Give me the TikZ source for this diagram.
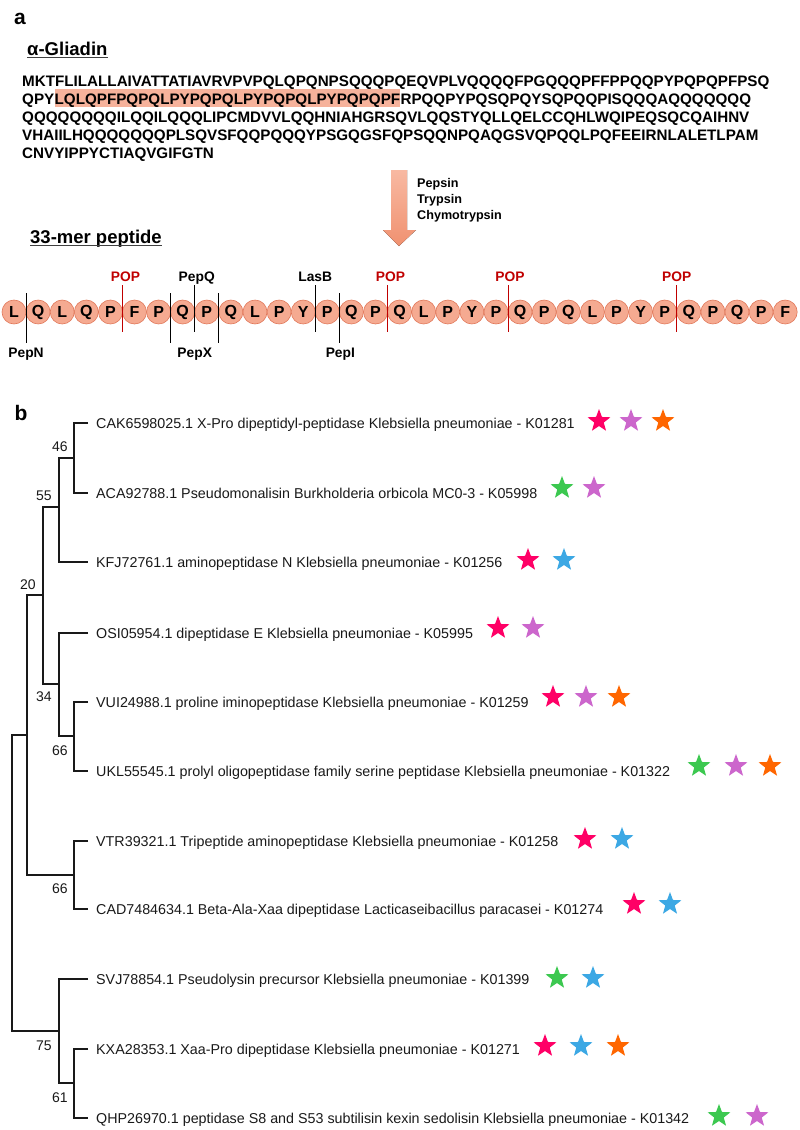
\documentclass[tikz,border=0pt]{standalone}
\usepackage{fontspec}
\setmainfont{Liberation Sans}
\usetikzlibrary{shapes.geometric,calc}
\definecolor{salmonfill}{RGB}{245,170,145}
\definecolor{salmonedge}{RGB}{225,120,90}
\definecolor{hl}{RGB}{246,178,155}
\definecolor{popred}{RGB}{192,0,0}
\definecolor{spink}{RGB}{255,0,102}
\definecolor{sviolet}{RGB}{204,102,204}
\definecolor{sorange}{RGB}{255,102,0}
\definecolor{sgreen}{RGB}{60,200,80}
\definecolor{sblue}{RGB}{60,168,228}
\definecolor{arrtop}{RGB}{248,185,162}
\definecolor{arrbot}{RGB}{240,145,112}
\begin{document}
\begin{tikzpicture}[x=1pt,y=-1pt,
  panel/.style={font=\fontsize{21}{24}\selectfont\bfseries, inner sep=0},
  head/.style={font=\fontsize{18.5}{22}\selectfont\bfseries, inner sep=0, anchor=base west},
  seq/.style={font=\fontsize{15.2}{18}\selectfont\bfseries, inner sep=0, anchor=base west},
  aa/.style={circle, draw=salmonedge, fill=salmonfill, line width=0.6pt, minimum size=24pt, inner sep=0, font=\fontsize{16}{18}\selectfont\bfseries},
  cut/.style={line width=1.1pt, draw=black},
  popcut/.style={line width=1.1pt, draw=popred},
  enz/.style={font=\fontsize{13.8}{16}\selectfont\bfseries, inner sep=0, anchor=base},
  pop/.style={enz, text=popred},
  dig/.style={font=\fontsize{12.6}{15}\selectfont\bfseries, inner sep=0, anchor=base west},
  leaf/.style={font=\fontsize{14.3}{17}\selectfont, text=black!90, inner sep=0, anchor=base west},
  boot/.style={font=\fontsize{14}{17}\selectfont, text=black!90, inner sep=0},
  branch/.style={line width=1.1pt, draw=black!90},
  starx/.style={star, star points=5, star point ratio=2.4, minimum size=24pt, inner sep=0, draw=none},
]
\useasboundingbox (0,0) rectangle (800,1130);

% ---------- panel a ----------
\node[panel] (pa) at (20,19) {a};
\node[head] (gl) at (27,55) {α-Gliadin};
\draw[line width=1.2pt, black!75] ($(gl.base west)+(0,2.8)$) -- ($(gl.base east)+(0,2.8)$);

\node[seq] (s1) at (22,86) {MKTFLILALLAIVATTATIAVRVPVPQLQPQNPSQQQPQEQVPLVQQQQFPGQQQPFFPPQQPYPQPQPFPSQ};
\node[seq] (s2a) at (22,104) {QPY};
\node[seq, fill=hl, text height=15pt, text depth=2.6pt] (s2b) at (s2a.base east) {LQLQPFPQPQLPYPQPQLPYPQPQLPYPQPQPF};
\node[seq] (s2c) at (s2b.base east) {RPQQPYPQSQPQYSQPQQPISQQQAQQQQQQQ};
\node[seq] (s3) at (22,122.3) {QQQQQQQQILQQILQQQLIPCMDVVLQQHNIAHGRSQVLQQSTYQLLQELCCQHLWQIPEQSQCQAIHNV};
\node[seq] (s4) at (22,140.5) {VHAIILHQQQQQQQPLSQVSFQQPQQQYPSGQGSFQPSQQNPQAQGSVQPQQLPQFEEIRNLALETLPAM};
\node[seq] (s5) at (22,158.7) {CNVYIPPYCTIAQVGIFGTN};

% digestion arrow
\fill[top color=arrtop, bottom color=arrbot] (391,170) -- (407,170) -- (407,230) -- (416,230) -- (399,246) -- (383,230) -- (391,230) -- cycle;
\node[dig] (pep) at (417,187.5) {Pepsin};
\node[dig] (try) at (417,203.5) {Trypsin};
\node[dig] (chy) at (417,219.5) {Chymotrypsin};

\node[head] (mer) at (30,243) {33-mer peptide};
\draw[line width=1.2pt, black!75] ($(mer.base west)+(0,2.8)$) -- ($(mer.base east)+(0,2.8)$);

% peptide beads
\foreach \l [count=\i from 0] in {L,Q,L,Q,P,F,P,Q,P,Q,L,P,Y,P,Q,P,Q,L,P,Y,P,Q,P,Q,L,P,Y,P,Q,P,Q,P,F}
  \node[aa] (p\i) at ({14+24.1*\i},312) {\l};

% cut sites
\coordinate (cN)  at ($(p0)!0.5!(p1)$);
\coordinate (cP1) at ($(p4)!0.5!(p5)$);
\coordinate (cXa) at ($(p6)!0.5!(p7)$);
\coordinate (cQ)  at ($(p7)!0.5!(p8)$);
\coordinate (cXb) at ($(p8)!0.5!(p9)$);
\coordinate (cL)  at ($(p12)!0.5!(p13)$);
\coordinate (cI)  at ($(p13)!0.5!(p14)$);
\coordinate (cP2) at ($(p15)!0.5!(p16)$);
\coordinate (cP3) at ($(p20)!0.5!(p21)$);
\coordinate (cP4) at ($(p27)!0.5!(p28)$);

% below-cuts (black)
\foreach \c in {cN,cXa,cXb,cI}
  \draw[cut] ($(\c)+(0,-19)$) -- ($(\c)+(0,31)$);
% above-cuts (black)
\foreach \c in {cQ,cL}
  \draw[cut] ($(\c)+(0,-27)$) -- ($(\c)+(0,20)$);
% POP cuts (red)
\foreach \c in {cP1,cP2,cP3,cP4}
  \draw[popcut] ($(\c)+(0,-27)$) -- ($(\c)+(0,20)$);

\node[enz] (lN) at ($(cN)+(0,45)$) {PepN};
\node[enz] (lX) at ($($(cXa)!0.5!(cXb)$)+(0,45)$) {PepX};
\node[enz] (lI) at ($(cI)+(1,45)$) {PepI};
\node[enz] (lQ) at ($(cQ)+(2,-31)$) {PepQ};
\node[enz] (lL) at ($(cL)+(0,-31)$) {LasB};
\node[pop] (lP1) at ($(cP1)+(3,-31)$) {POP};
\node[pop] (lP2) at ($(cP2)+(3,-31)$) {POP};
\node[pop] (lP3) at ($(cP3)+(2,-31)$) {POP};
\node[pop] (lP4) at ($(cP4)+(0,-31)$) {POP};

% ---------- panel b ----------
\node[panel] (pb) at (21,412.5) {b};

% leaf tips
\coordinate (tCAK) at (88,423);
\coordinate (tACA) at (88,493);
\coordinate (tKFJ) at (88,562);
\coordinate (tOSI) at (88,633);
\coordinate (tVUI) at (88,702);
\coordinate (tUKL) at (88,771);
\coordinate (tVTR) at (88,841);
\coordinate (tCAD) at (88,909);
\coordinate (tSVJ) at (88,979);
\coordinate (tKXA) at (88,1049);
\coordinate (tQHP) at (88,1118);

% internal nodes
\coordinate (nA) at (74,458);
\coordinate (nB) at (59,507);
\coordinate (n20) at (43,595);
\coordinate (nD) at (74,736);
\coordinate (nC) at (59,684);
\coordinate (nE) at (27,735);
\coordinate (nF) at (74,875);
\coordinate (nH) at (74,1083);
\coordinate (nG) at (59,1031);
\coordinate (nR) at (12,883);

\draw[branch] (tCAK) -| (nA) |- (tACA);
\draw[branch] (nA) -| (nB) |- (tKFJ);
\draw[branch] (nB) -| (n20) |- (nC);
\draw[branch] (tOSI) -| (nC) |- (nD);
\draw[branch] (tVUI) -| (nD) |- (tUKL);
\draw[branch] (n20) -| (nE) |- (nF);
\draw[branch] (tVTR) -| (nF) |- (tCAD);
\draw[branch] (nE) -| (nR) |- (nG);
\draw[branch] (tSVJ) -| (nG) |- (nH);
\draw[branch] (tKXA) -| (nH) |- (tQHP);

% bootstrap values
\node[boot] (b46) at (60,447) {46};
\node[boot] (b55) at (44,496) {55};
\node[boot] (b20) at (28,585) {20};
\node[boot] (b34) at (44,697) {34};
\node[boot] (b66a) at (60,751) {66};
\node[boot] (b66b) at (60,889) {66};
\node[boot] (b75) at (44,1046) {75};
\node[boot] (b61) at (60,1098) {61};

% leaf labels
\node[leaf] (LCAK) at (96,428.1) {CAK6598025.1 X-Pro dipeptidyl-peptidase Klebsiella pneumoniae - K01281};
\node[leaf] (LACA) at (96,498.1) {ACA92788.1 Pseudomonalisin Burkholderia orbicola MC0-3 - K05998};
\node[leaf] (LKFJ) at (96,567.1) {KFJ72761.1 aminopeptidase N Klebsiella pneumoniae - K01256};
\node[leaf] (LOSI) at (96,638.1) {OSI05954.1 dipeptidase E Klebsiella pneumoniae - K05995};
\node[leaf] (LVUI) at (96,707.1) {VUI24988.1 proline iminopeptidase Klebsiella pneumoniae - K01259};
\node[leaf] (LUKL) at (96,776.1) {UKL55545.1 prolyl oligopeptidase family serine peptidase Klebsiella pneumoniae - K01322};
\node[leaf] (LVTR) at (96,846.1) {VTR39321.1 Tripeptide aminopeptidase Klebsiella pneumoniae - K01258};
\node[leaf] (LCAD) at (96,914.1) {CAD7484634.1 Beta-Ala-Xaa dipeptidase Lacticaseibacillus paracasei - K01274};
\node[leaf] (LSVJ) at (96,984.1) {SVJ78854.1 Pseudolysin precursor Klebsiella pneumoniae - K01399};
\node[leaf] (LKXA) at (96,1054.1) {KXA28353.1 Xaa-Pro dipeptidase Klebsiella pneumoniae - K01271};
\node[leaf] (LQHP) at (96,1123.1) {QHP26970.1 peptidase S8 and S53 subtilisin kexin sedolisin Klebsiella pneumoniae - K01342};

% stars
\foreach \sx/\sy/\sc [count=\k] in {
  599/421/spink, 631/421/sviolet, 663/421/sorange,
  562/488/sgreen, 594/488/sviolet,
  528/560/spink, 564/560/sblue,
  498/628/spink, 533/628/sviolet,
  553/697/spink, 586/697/sviolet, 619/697/sorange,
  699/766/sgreen, 736/766/sviolet, 770/766/sorange,
  585/839/spink, 622/839/sblue,
  634/904/spink, 670/904/sblue,
  557/978/sgreen, 593/978/sblue,
  545/1046/spink, 581/1046/sblue, 618/1046/sorange,
  719/1116/sgreen, 757/1116/sviolet}
  \node[starx, fill=\sc] (st\k) at (\sx,\sy) {};
\end{tikzpicture}
\end{document}
